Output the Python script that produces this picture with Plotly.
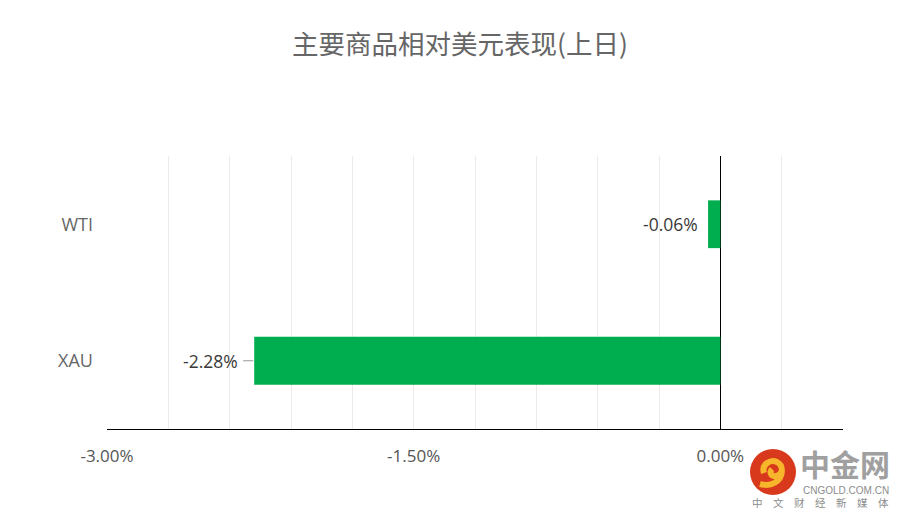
import plotly.graph_objects as go

# Commodity performance vs USD (previous day), in percent
categories = ["WTI", "XAU"]
changes = [-0.06, -2.28]
labels = ["-0.06%", "-2.28%"]
tick_values = [-3.0, -1.5, 0.0]
tick_labels = ["-3.00%", "-1.50%", "0.00%"]
title_text = "主要商品相对美元表现(上日)"

bar_color = "#00ae4f"
grid_color = "#ebebeb"
label_font = dict(family="Open Sans, Noto Sans", size=17.5, color="#3a3a3a")

fig = go.Figure()
fig.add_trace(go.Bar(
    x=changes,
    y=categories,
    orientation="h",
    width=0.35,
    marker=dict(color=bar_color, line=dict(width=0)),
    hoverinfo="skip",
))

# Value labels left of each bar; the long bar gets a short leader line
for cat, val, lab in zip(categories, changes, labels):
    if abs(val) > 1:
        fig.add_annotation(
            x=val, y=cat, xref="x", yref="y", text=lab,
            showarrow=True, ax=-14, ay=0, arrowhead=0, arrowwidth=1,
            arrowcolor="#999999", startstandoff=3, standoff=1,
            xanchor="right", font=label_font,
        )
    else:
        fig.add_annotation(
            x=val, y=cat, xref="x", yref="y", text=lab,
            showarrow=False, xanchor="right", xshift=-8, font=label_font,
        )

fig.update_layout(
    width=906, height=518,
    margin=dict(l=107, r=63, t=156, b=89),
    paper_bgcolor="white", plot_bgcolor="white",
    showlegend=False,
    title=dict(
        text=title_text, x=460 / 906, xref="container", xanchor="center",
        y=0.913, yref="container", yanchor="middle",
        font=dict(family="Noto Sans CJK SC", size=26.5, color="#666666"),
    ),
    xaxis=dict(
        range=[-3.0, 0.6],
        tickmode="array", tickvals=tick_values, ticktext=tick_labels,
        showgrid=True, gridcolor=grid_color, gridwidth=1,
        minor=dict(dtick=0.3, tick0=0, showgrid=True, gridcolor=grid_color, gridwidth=1),
        zeroline=True, zerolinecolor="#000000", zerolinewidth=1,
        showline=True, linecolor="#000000", linewidth=1,
        ticks="", ticklabelstandoff=12,
        tickfont=dict(family="Open Sans, Noto Sans", size=17, color="#555555"),
        fixedrange=True,
    ),
    yaxis=dict(
        categoryorder="array", categoryarray=categories[::-1],
        showgrid=False, zeroline=False, showline=False,
        ticks="", ticklabelstandoff=13,
        tickfont=dict(family="Open Sans, Noto Sans", size=18, color="#666666"),
        fixedrange=True,
    ),
)

# Brand mark in the lower-right corner
cx, cy = (773 - 107) / 736, (429 - 472) / 273
fig.add_shape(type="circle", xref="paper", yref="paper",
              xsizemode="pixel", ysizemode="pixel", xanchor=cx, yanchor=cy,
              x0=-23, x1=23, y0=-23, y1=23,
              fillcolor="#d8381c", line=dict(width=0), layer="above")
fig.add_shape(type="path", xref="paper", yref="paper",
              xsizemode="pixel", ysizemode="pixel", xanchor=cx, yanchor=cy,
              path="M -9,-1 C -12,8 -2,13 4,10 C 11,6 10,-3 3,-4 C -2,-5 -4,0 -1,3 "
                   "M 9,1 C 8,-10 -2,-15 -13,-12",
              line=dict(color="#f7b52c", width=6), layer="above")

brand_texts = [
    (845, 463, "<b>中金网</b>", dict(family="Noto Sans CJK SC", size=30, color="#a0a0a0")),
    (846, 490, "CNGOLD.COM.CN", dict(family="Liberation Sans", size=10, color="#8c8c8c")),
    (820, 502, "中\u3000文\u3000财\u3000经\u3000新\u3000媒\u3000体",
     dict(family="Noto Sans CJK SC", size=10.5, color="#8c8c8c")),
]
# positions given in pixels, converted to paper units of the plot area
for px, py, txt, fnt in brand_texts:
    fig.add_annotation(x=(px - 107) / 736, y=(429 - py) / 273,
                       xref="paper", yref="paper", text=txt, showarrow=False,
                       xanchor="center", yanchor="middle", font=fnt)

fig.write_html("out.html")
